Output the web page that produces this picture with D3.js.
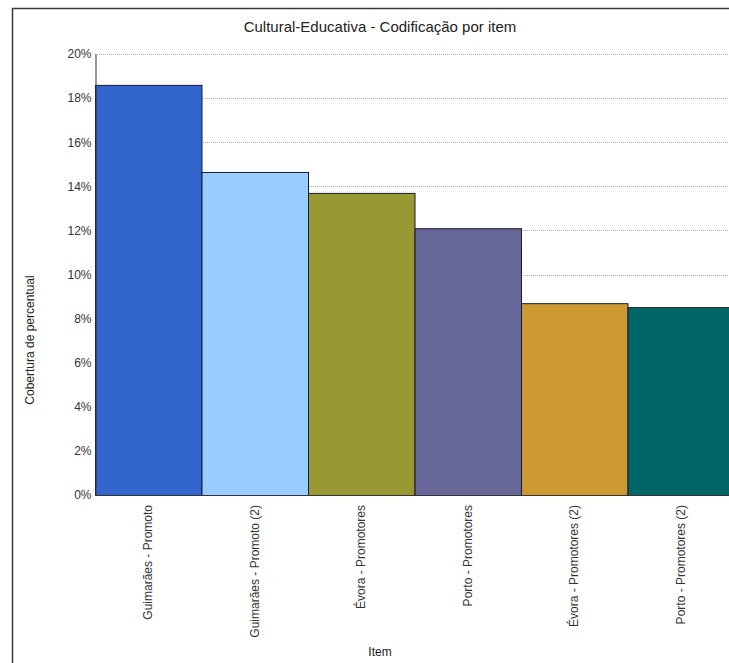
<!DOCTYPE html>
<html>
<head>
<meta charset="utf-8">
<script src="https://cdn.jsdelivr.net/npm/d3@7"></script>
<style>
html,body{margin:0;padding:0;background:#fff;overflow:hidden;}
svg{display:block;font-family:"Liberation Sans",Arial,sans-serif;}
</style>
</head>
<body>
<svg id="chart" width="729" height="663"></svg>
<script>
const categories = ["Guimarães - Promoto","Guimarães - Promoto (2)","Évora - Promotores","Porto - Promotores","Évora - Promotores (2)","Porto - Promotores (2)"];
const values = [18.6, 14.65, 13.7, 12.1, 8.7, 8.52];
const colors = ["#3366CC","#99CCFF","#999933","#666699","#CC9933","#006666"];
const yTicks = [0,2,4,6,8,10,12,14,16,18,20];
const title = "Cultural-Educativa - Codificação por item";
const yTitle = "Cobertura de percentual";
const xTitle = "Item";

(function(){
const svg = d3.select("#chart");
const W = 729, H = 663;
const mLeft = 95, mRight = 734, mTop = 54, mBottom = 495;

// frame
svg.append("path").attr("d", `M12.5,${H} L12.5,8.5 L${W},8.5`).attr("fill","none").attr("stroke","#3a3a3a").attr("stroke-width",1.5);

const x = d3.scaleBand().domain(categories).range([mLeft, mRight]).padding(0);
const y = d3.scaleLinear().domain([0,20]).range([mBottom, mTop]);

// grid
svg.append("g").selectAll("line").data(yTicks.filter(d=>d>0)).join("line")
  .attr("x1", mLeft).attr("x2", W)
  .attr("y1", d=>Math.round(y(d))+0.5).attr("y2", d=>Math.round(y(d))+0.5)
  .attr("stroke","#aaa").attr("stroke-width",1).attr("stroke-dasharray","1,1");

// bars
svg.append("g").selectAll("rect").data(values).join("rect")
  .attr("x", (d,i)=>x(categories[i])+0.5)
  .attr("y", d=>y(d)+0.5)
  .attr("width", x.bandwidth())
  .attr("height", d=>mBottom - y(d))
  .attr("fill", (d,i)=>colors[i])
  .attr("stroke","#1a1a33").attr("stroke-width",1);

// y axis
const yAxis = d3.axisLeft(y).tickValues(yTicks).tickFormat(d=>d+"%").tickSize(0).tickPadding(4);
const yg = svg.append("g").attr("transform",`translate(${mLeft+0.5},0)`).call(yAxis);
yg.select(".domain").attr("stroke","#333");
yg.selectAll("text").attr("font-size",12).attr("fill","#333").attr("font-family","Liberation Sans, Arial, sans-serif");

// x axis line
svg.append("line").attr("x1",mLeft).attr("x2",W).attr("y1",mBottom+0.5).attr("y2",mBottom+0.5).attr("stroke","#333");

// x labels
svg.append("g").selectAll("text").data(categories).join("text")
  .attr("transform", d=>`translate(${x(d)+x.bandwidth()/2+4},${mBottom+10}) rotate(-90)`)
  .attr("text-anchor","end")
  .attr("font-size",12).attr("fill","#333")
  .text(d=>d);

// titles
svg.append("text").attr("x",380).attr("y",32).attr("text-anchor","middle").attr("font-size",15).attr("fill","#222").text(title);
svg.append("text").attr("transform","translate(34,340) rotate(-90)").attr("text-anchor","middle").attr("font-size",12).attr("fill","#222").text(yTitle);
svg.append("text").attr("x",380).attr("y",656).attr("text-anchor","middle").attr("font-size",12).attr("fill","#222").text(xTitle);
})();
</script>
</body>
</html>
